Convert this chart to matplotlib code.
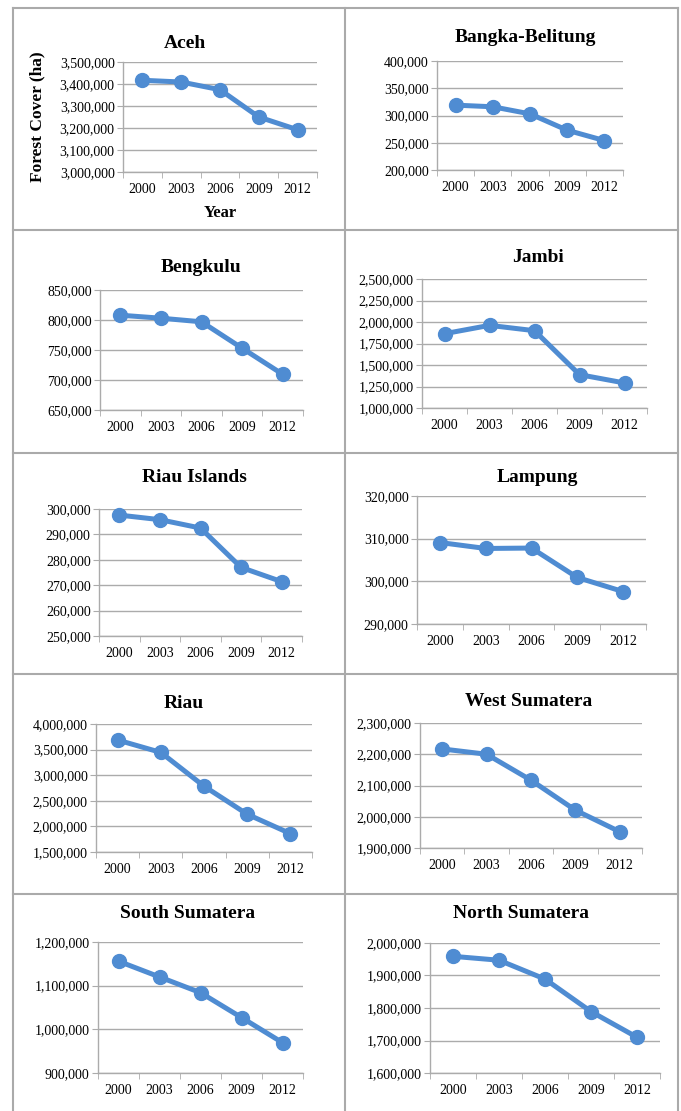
import matplotlib
matplotlib.use("Agg")
import matplotlib.pyplot as plt
from matplotlib.lines import Line2D
from matplotlib.ticker import FuncFormatter, FixedLocator

years = ["2000", "2003", "2006", "2009", "2012"]

provinces = ["Aceh", "Bangka-Belitung", "Bengkulu", "Jambi", "Riau Islands",
             "Lampung", "Riau", "West Sumatera", "South Sumatera", "North Sumatera"]

aceh = [3417000, 3409000, 3374000, 3250000, 3192000]
bangka = [319000, 316000, 303000, 273000, 254000]
bengkulu = [808000, 803000, 797000, 753000, 709500]
jambi = [1864000, 1961000, 1899000, 1388000, 1291000]
riau_islands = [297600, 295800, 292500, 277000, 271400]
lampung = [309100, 307700, 307800, 300900, 297600]
riau = [3687000, 3445000, 2786000, 2238000, 1859000]
west_sumatera = [2217000, 2200000, 2117000, 2021000, 1952000]
south_sumatera = [1156000, 1120000, 1084000, 1027000, 969500]
north_sumatera = [1959000, 1947000, 1889000, 1789000, 1710000]

series = [aceh, bangka, bengkulu, jambi, riau_islands,
          lampung, riau, west_sumatera, south_sumatera, north_sumatera]

# y ranges (min, max, step) as shown on each panel
yranges = [(3000000, 3500000, 100000), (200000, 400000, 50000),
           (650000, 850000, 50000), (1000000, 2500000, 250000),
           (250000, 300000, 10000), (290000, 320000, 10000),
           (1500000, 4000000, 500000), (1900000, 2300000, 100000),
           (900000, 1200000, 100000), (1600000, 2000000, 100000)]

W, H = 681, 1111
# plot boxes in pixels: left, right, top, bottom
boxes = [(123, 317, 62, 172), (437, 623, 61, 170),
         (100, 303, 290, 410), (422, 647, 279, 408),
         (99, 302, 509, 636), (417, 646, 496, 624),
         (96, 312, 724, 852), (420, 642, 723, 848),
         (98, 303, 942, 1073), (430, 660, 943, 1073)]
titlepos = [(185, 43), (525, 37), (201, 268), (538, 257), (194, 478),
            (537, 477), (184, 703), (529, 702), (188, 913), (521, 913)]

BLUE = "#4F8CD2"
GRID = "#ABABAB"
plt.rcParams["font.family"] = ["Liberation Serif", "DejaVu Serif"]

fig = plt.figure(figsize=(W / 100, H / 100), dpi=100)

for i, vals in enumerate(series):
    l, r, t, b = boxes[i]
    ax = fig.add_axes([l / W, 1 - b / H, (r - l) / W, (b - t) / H])
    lo, hi, step = yranges[i]
    ax.plot(range(len(years)), vals, color=BLUE, lw=3.6, marker="o",
            ms=10, solid_capstyle="round", zorder=3, clip_on=False)
    ax.set_xlim(-0.5, len(years) - 0.5)
    ax.set_ylim(lo, hi)
    ticks = list(range(lo, hi + 1, step))
    ax.yaxis.set_major_locator(FixedLocator(ticks))
    ax.yaxis.set_major_formatter(FuncFormatter(lambda v, p: "{:,.0f}".format(v)))
    ax.set_xticks(range(len(years)))
    ax.set_xticklabels(years)
    ax.set_xticks([x - 0.5 for x in range(len(years) + 1)], minor=True)
    ax.tick_params(axis="x", which="major", length=0, labelsize=10, pad=8)
    ax.tick_params(axis="x", which="minor", length=4, color=GRID, direction="out")
    ax.tick_params(axis="y", length=4, color=GRID, labelsize=10, pad=2)
    ax.grid(axis="y", color=GRID, lw=1)
    ax.set_axisbelow(True)
    for s in ("top", "right"):
        ax.spines[s].set_visible(False)
    for s in ("left", "bottom"):
        ax.spines[s].set_color(GRID)
        ax.spines[s].set_linewidth(1)
    fig.text(titlepos[i][0] / W, 1 - titlepos[i][1] / H, provinces[i],
             ha="center", va="center", fontsize=14, fontweight="bold")
    if i == 0:
        fig.text(37 / W, 1 - 117 / H, "Forest Cover (ha)", rotation=90,
                 ha="center", va="center", fontsize=12.5, fontweight="bold")
        fig.text(220 / W, 1 - 213 / H, "Year", ha="center", va="center",
                 fontsize=12, fontweight="bold")

# table-like panel borders
BORDER = "#AAAAAA"
for y in (8, 230, 453, 674, 894):
    fig.add_artist(Line2D([13 / W, 678 / W], [1 - y / H, 1 - y / H],
                          color=BORDER, lw=1.5))
for x in (13, 345, 678):
    fig.add_artist(Line2D([x / W, x / W], [1 - 8 / H, 0], color=BORDER, lw=1.5))

fig.savefig("out.png", dpi=100)
